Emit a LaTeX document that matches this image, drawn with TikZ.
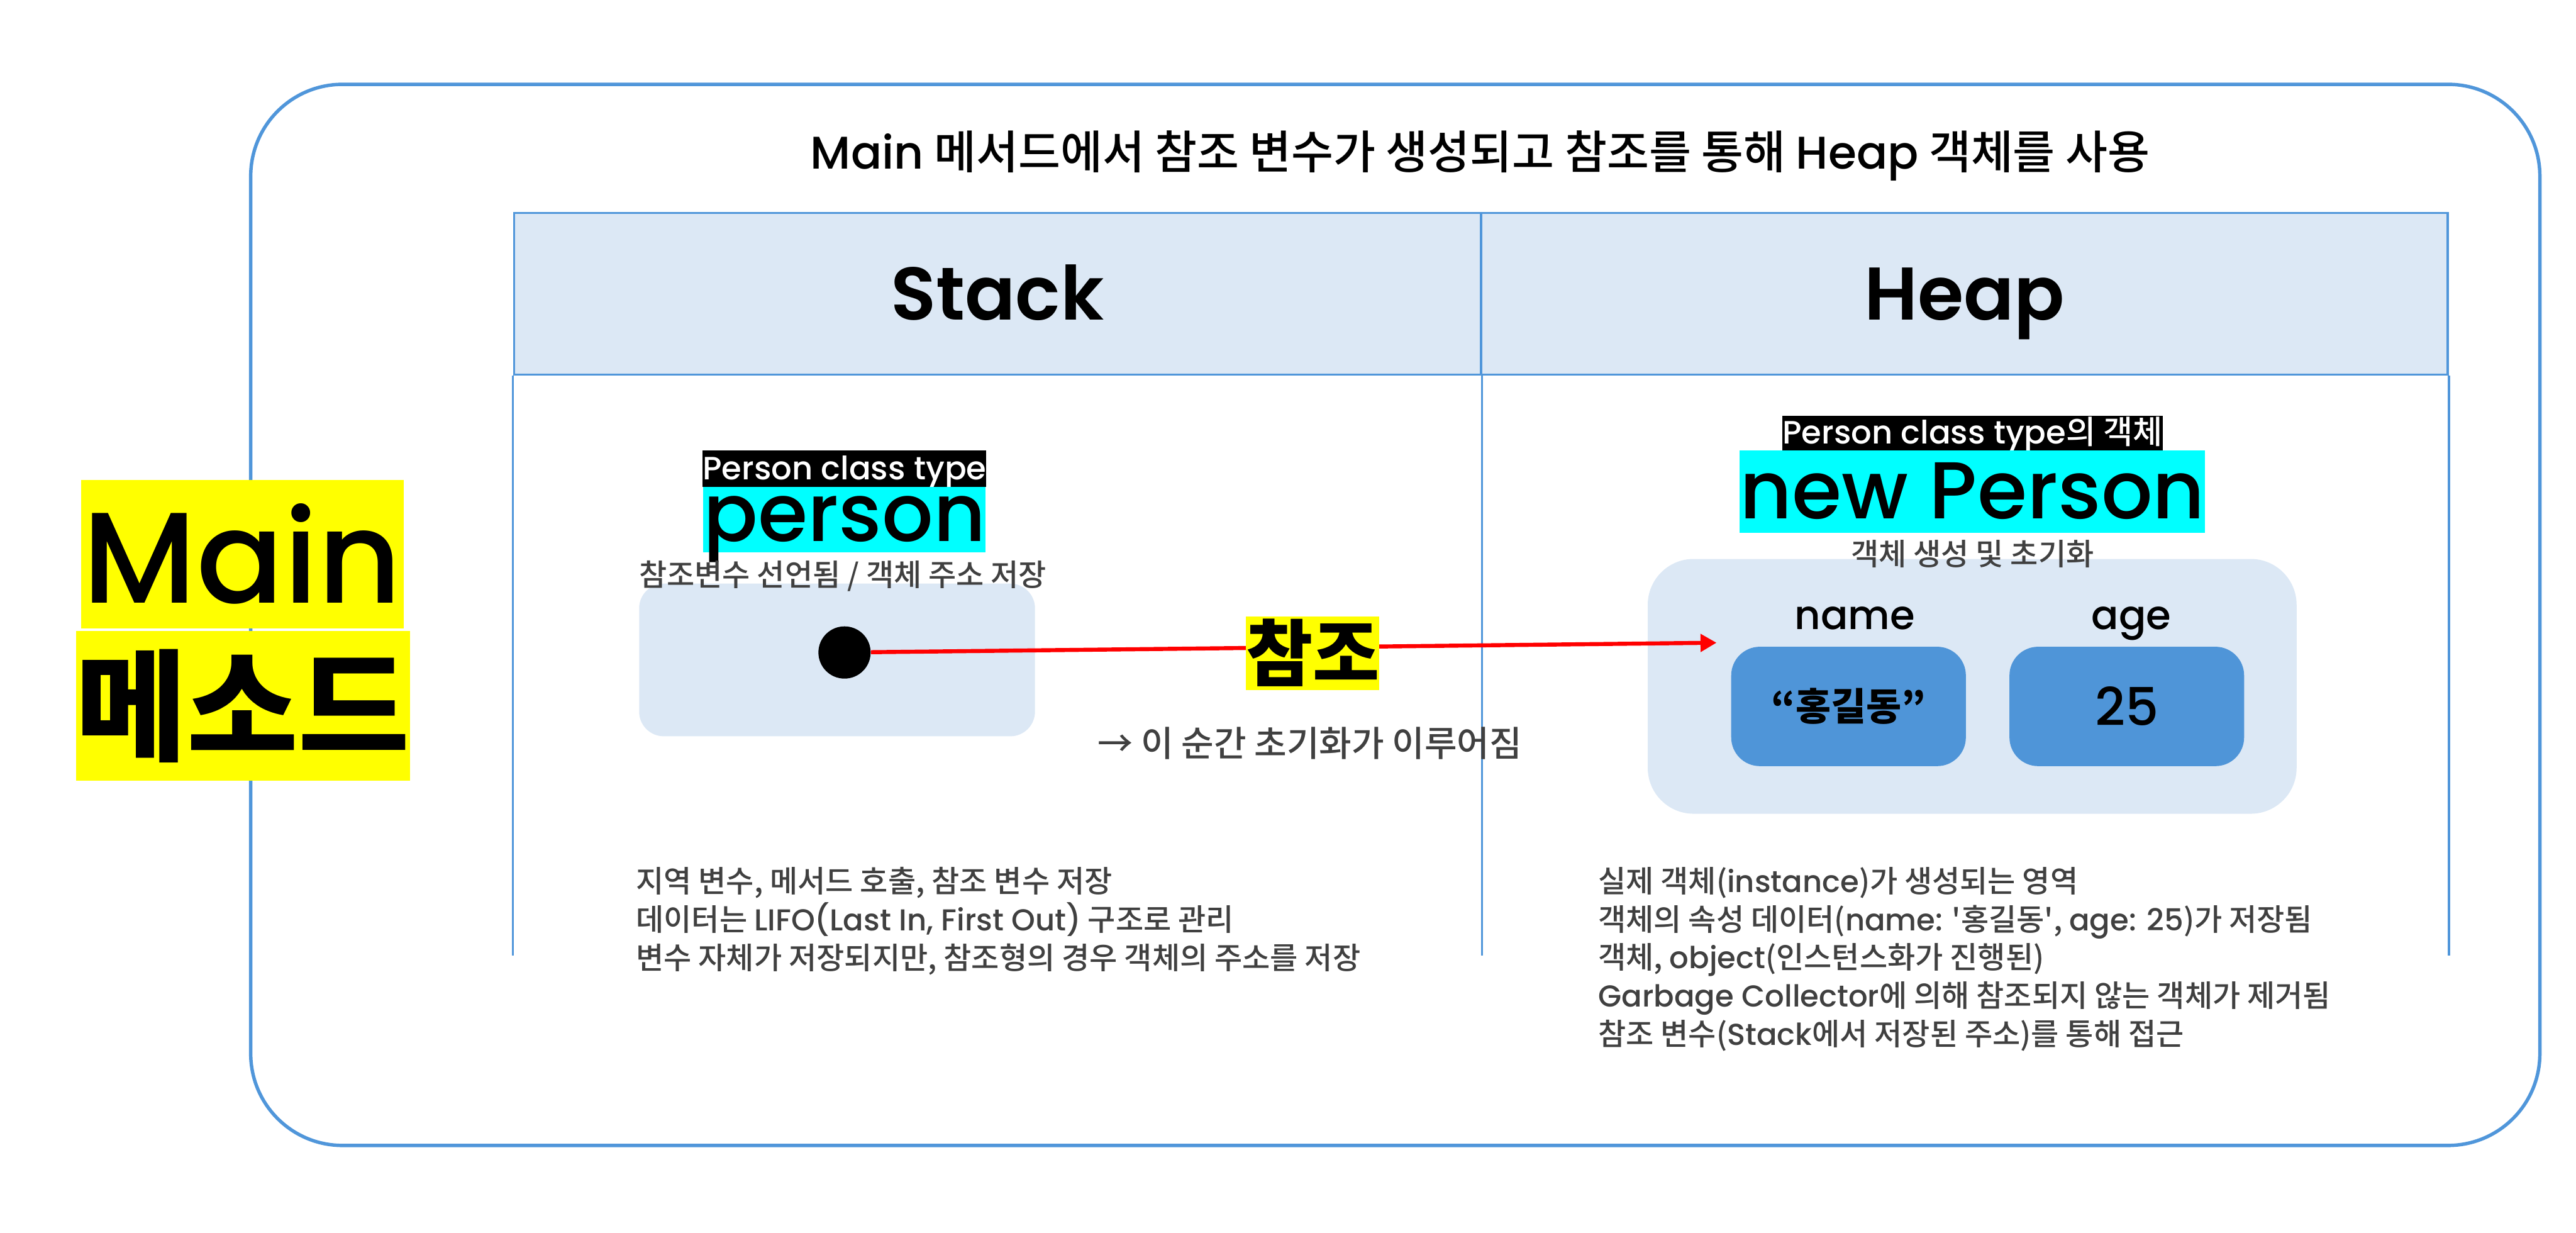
\documentclass[tikz,border=0pt]{standalone}
\usepackage{fontspec}
\setmainfont{Poppins}
\newfontfamily\kr{Noto Sans CJK KR}
\IfFontExistsTF{Noto Sans CJK KR Medium}
  {\newfontfamily\krm{Noto Sans CJK KR Medium}}{\newfontfamily\krm{Noto Sans CJK KR}}
\IfFontExistsTF{Poppins Medium}
  {\newfontfamily\popm{Poppins Medium}}{\newfontfamily\popm{Poppins}}
\IfFontExistsTF{Poppins SemiBold}
  {\newfontfamily\popsb{Poppins SemiBold}}{\newfontfamily\popsb{Poppins}[UprightFont=*-Bold]}
\usepackage{tikz}
\usetikzlibrary{arrows.meta}
\definecolor{frameblue}{HTML}{5096DA}
\definecolor{paleblue}{HTML}{DCE8F5}
\definecolor{boxblue}{HTML}{4F95D8}
\definecolor{txtgray}{HTML}{404040}
\definecolor{hiyellow}{HTML}{FFFF00}
\definecolor{hicyan}{HTML}{00FFFF}

\begin{document}
\begin{tikzpicture}[
    outerframe/.style={draw=frameblue, line width=1.7pt, rounded corners=1.6cm},
    cell/.style={draw=frameblue, line width=1.1pt, fill=paleblue, minimum width=16.85cm,
                 inner sep=0pt, text height=1.863cm, text depth=0.957cm,
                 font=\popsb\fontsize{37}{40}\selectfont},
    colline/.style={draw=frameblue, line width=1.1pt},
    tag/.style={fill=black, text=white, inner sep=0pt, text height=0.51cm, text depth=0.12cm,
                font=\popm\fontsize{16}{19}\selectfont},
    varname/.style={fill=hicyan, inner sep=0pt, font=\popm\fontsize{40}{46}\selectfont},
    caption/.style={text=txtgray, inner sep=0pt, font=\krm\fontsize{15}{18}\selectfont},
    area/.style={fill=paleblue, inner sep=0pt},
    fieldlbl/.style={inner sep=0pt, text height=0.5cm, text depth=0.114cm,
                     font=\popm\fontsize{20}{24}\selectfont},
    field/.style={fill=boxblue, rounded corners=0.5cm, minimum width=4.09cm,
                  minimum height=2.08cm, inner sep=0pt},
    hilite/.style={fill=hiyellow, inner sep=0pt},
    notes/.style={text=txtgray, align=left, inner sep=0pt, anchor=north west,
                  font=\krm\fontsize{15}{19}\selectfont}
  ]
  \useasboundingbox (0,0) rectangle (44.90,21.48);

  % frame and title
  \draw[outerframe] (4.37,1.52) rectangle (44.27,20.01);
  \node[font=\krm\fontsize{22.7}{26}\selectfont] (title) at (25.80,18.76)
    {{\popm Main} 메서드에서 참조 변수가 생성되고 참조를 통해 {\popm Heap} 객체를 사용};

  % table
  \node[cell] (stackhdr) at (17.385,16.36) {Stack};
  \node[cell] (heaphdr) at (34.24,16.36) {Heap};
  \draw[colline] (stackhdr.south west) -- ++(0,-10.10);
  \draw[colline] (stackhdr.south east) -- ++(0,-10.10);
  \draw[colline] (heaphdr.south east) -- ++(0,-10.10);

  % Main label
  \node[hilite, minimum width=5.63cm, minimum height=2.59cm,
        font=\popm\fontsize{64}{72}\selectfont] (mainlbl) at (4.225,11.825) {Main};
  \node[hilite, minimum width=5.81cm, minimum height=2.60cm,
        font=\kr\bfseries\fontsize{60}{66}\selectfont] (methodlbl) at (4.235,9.18) {메소드};

  % stack side
  \node[area, rounded corners=0.43cm, minimum width=6.90cm, minimum height=2.66cm]
    (stackarea) at (14.59,9.98) {};
  \node[tag, minimum width=4.92cm] (ptype) at (14.72,13.315) {Person class type};
  \node[varname, minimum width=4.64cm, text height=0.955cm, text depth=0.185cm]
    (pvar) at (14.72,12.43) {person};
  \node[caption] (pcap) at (14.69,11.44) {참조변수 선언됨 / 객체 주소 저장};
  \node[circle, fill=black, inner sep=0pt, minimum size=0.91cm] (dot) at (14.72,10.11) {};

  % heap side
  \node[area, rounded corners=0.8cm, minimum width=11.31cm, minimum height=4.44cm]
    (heaparea) at (34.375,9.52) {};
  \node[tag, minimum width=6.44cm, text height=0.485cm, text depth=0.115cm] (otype)
    at (34.38,13.93) {Person class type{\krm 의 객체}};
  \node[varname, minimum width=7.82cm, text height=1.19cm, text depth=0.24cm]
    (newp) at (34.38,12.915) {new Person};
  \node[caption] (ocap) at (34.38,11.83) {객체 생성 및 초기화};
  \node[fieldlbl] (namelbl) at (32.33,10.70) {name};
  \node[fieldlbl] (agelbl) at (37.15,10.70) {age};
  \node[field, font=\kr\bfseries\fontsize{19}{24}\selectfont] (namebox) at (32.22,9.17) {“홍길동”};
  \node[field, font=\popm\fontsize{26}{30}\selectfont] (agebox) at (37.07,9.17) {25};

  % reference arrow
  \coordinate (refend) at (29.92,10.28);
  \draw[red, line width=2pt, -{Triangle[length=0.28cm,width=0.30cm]}] (dot) -- (refend);
  \node[hilite, minimum width=2.24cm, minimum height=1.28cm,
        font=\kr\bfseries\fontsize{36}{40}\selectfont] (reflbl) at (22.88,10.10) {참조};
  \node[caption, anchor=west, font=\krm\fontsize{17.5}{20}\selectfont] (initnote) at (19.13,8.53)
    {→ 이 순간 초기화가 이루어짐};

  % notes
  \node[notes] (stacknote) at (11.08,6.38)
    {지역 변수, 메서드 호출, 참조 변수 저장\\
     데이터는 {\popm LIFO(Last In, First Out)} 구조로 관리\\
     변수 자체가 저장되지만, 참조형의 경우 객체의 주소를 저장};
  \node[notes] (heapnote) at (27.85,6.38)
    {실제 객체({\popm instance})가 생성되는 영역\\
     객체의 속성 데이터({\popm name:} \textquotesingle 홍길동\textquotesingle, {\popm age: 25})가 저장됨\\
     객체, {\popm object}(인스턴스화가 진행된)\\
     {\popm Garbage Collector}에 의해 참조되지 않는 객체가 제거됨\\
     참조 변수({\popm Stack}에서 저장된 주소)를 통해 접근};
\end{tikzpicture}
\end{document}
